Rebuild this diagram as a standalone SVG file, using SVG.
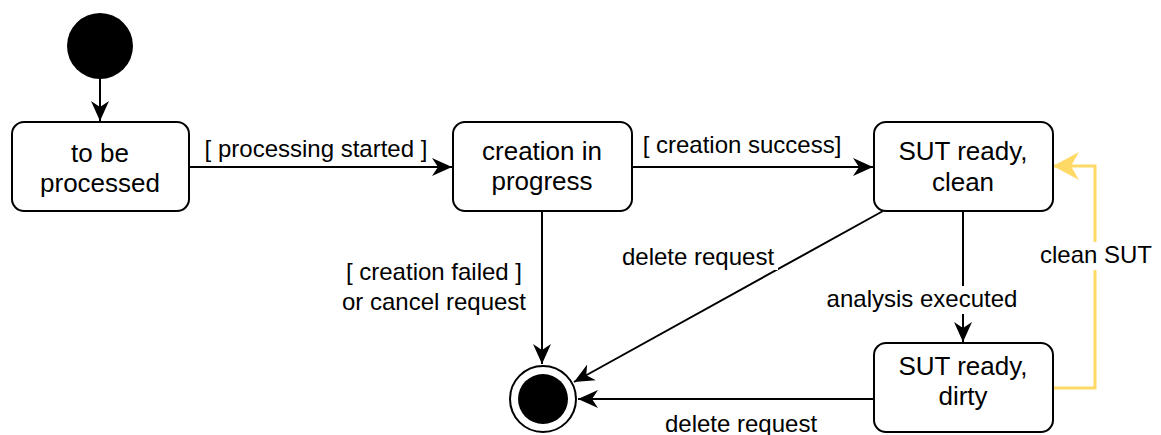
<svg xmlns="http://www.w3.org/2000/svg" width="1161" height="435" viewBox="0 0 1161 435">
<style>
.node{fill:#fff;stroke:#000;stroke-width:2}
.nt{font-family:"Liberation Sans",Arial,sans-serif;font-size:26px;fill:#000;text-anchor:middle}
.lb{font-family:"Liberation Sans",Arial,sans-serif;font-size:24px;fill:#000;text-anchor:middle}
.edge{fill:none;stroke:#000;stroke-width:2}
.yedge{fill:none;stroke:#FFD966;stroke-width:3}
</style>
<defs>
<marker id="ah" viewBox="0 0 20 20" refX="20" refY="10" markerWidth="20" markerHeight="20" markerUnits="userSpaceOnUse" orient="auto">
<path d="M0,1 L20,10 L0,19 L6,10 Z" fill="#000"/>
</marker>
<marker id="ahy" viewBox="0 0 26 28" refX="25" refY="14" markerWidth="26" markerHeight="28" markerUnits="userSpaceOnUse" orient="auto">
<path d="M0,0 L26,14 L0,28 L8,14 Z" fill="#FFD966"/>
</marker>
</defs>
<g id="connectors">
<line class="edge" x1="100" y1="79" x2="100" y2="121" marker-end="url(#ah)"/>
<line class="edge" x1="189" y1="167" x2="452" y2="167" marker-end="url(#ah)"/>
<line class="edge" x1="632" y1="167" x2="873" y2="167" marker-end="url(#ah)"/>
<line class="edge" x1="542" y1="211" x2="542" y2="364" marker-end="url(#ah)"/>
<line class="edge" x1="883" y1="211" x2="574" y2="382" marker-end="url(#ah)"/>
<line class="edge" x1="963" y1="211" x2="963" y2="342" marker-end="url(#ah)"/>
<line class="edge" x1="874" y1="399" x2="578" y2="399" marker-end="url(#ah)"/>
<polyline class="yedge" points="1053,388 1095,388 1095,166 1054,166" marker-end="url(#ahy)"/>
<text class="lb" x="316" y="157">[ processing started ]</text>
<text class="lb" x="742" y="153">[ creation success]</text>
<text class="lb" x="434" y="280">[ creation failed ]</text>
<text class="lb" x="434" y="310">or cancel request</text>
<rect x="618" y="244" width="160" height="26" fill="#fff"/>
<text class="lb" x="698" y="265">delete request</text>
<rect x="824" y="286" width="196" height="28" fill="#fff"/>
<text class="lb" x="922" y="307">analysis executed</text>
<rect x="1038" y="242" width="116" height="28" fill="#fff"/>
<text class="lb" x="1096" y="263">clean SUT</text>
<text class="lb" x="741" y="432">delete request</text>
</g>
<g id="initial">
<circle cx="100" cy="46" r="33" fill="#000"/>
</g>
<g id="to-be-processed">
<rect class="node" x="12" y="122" width="177" height="89" rx="12"/>
<text class="nt" x="100" y="162">to be</text>
<text class="nt" x="100" y="192">processed</text>
</g>
<g id="creation-in-progress">
<rect class="node" x="453" y="122" width="179" height="89" rx="12"/>
<text class="nt" x="542" y="160">creation in</text>
<text class="nt" x="542" y="190">progress</text>
</g>
<g id="sut-clean">
<rect class="node" x="874" y="122" width="179" height="89" rx="12"/>
<text class="nt" x="963" y="160">SUT ready,</text>
<text class="nt" x="963" y="191">clean</text>
</g>
<g id="sut-dirty">
<rect class="node" x="874" y="343" width="179" height="89" rx="12"/>
<text class="nt" x="963" y="375">SUT ready,</text>
<text class="nt" x="963" y="405">dirty</text>
</g>
<g id="final">
<circle cx="543" cy="399" r="33" fill="#fff" stroke="#000" stroke-width="2"/>
<circle cx="543" cy="399" r="25" fill="#000"/>
</g>
</svg>
